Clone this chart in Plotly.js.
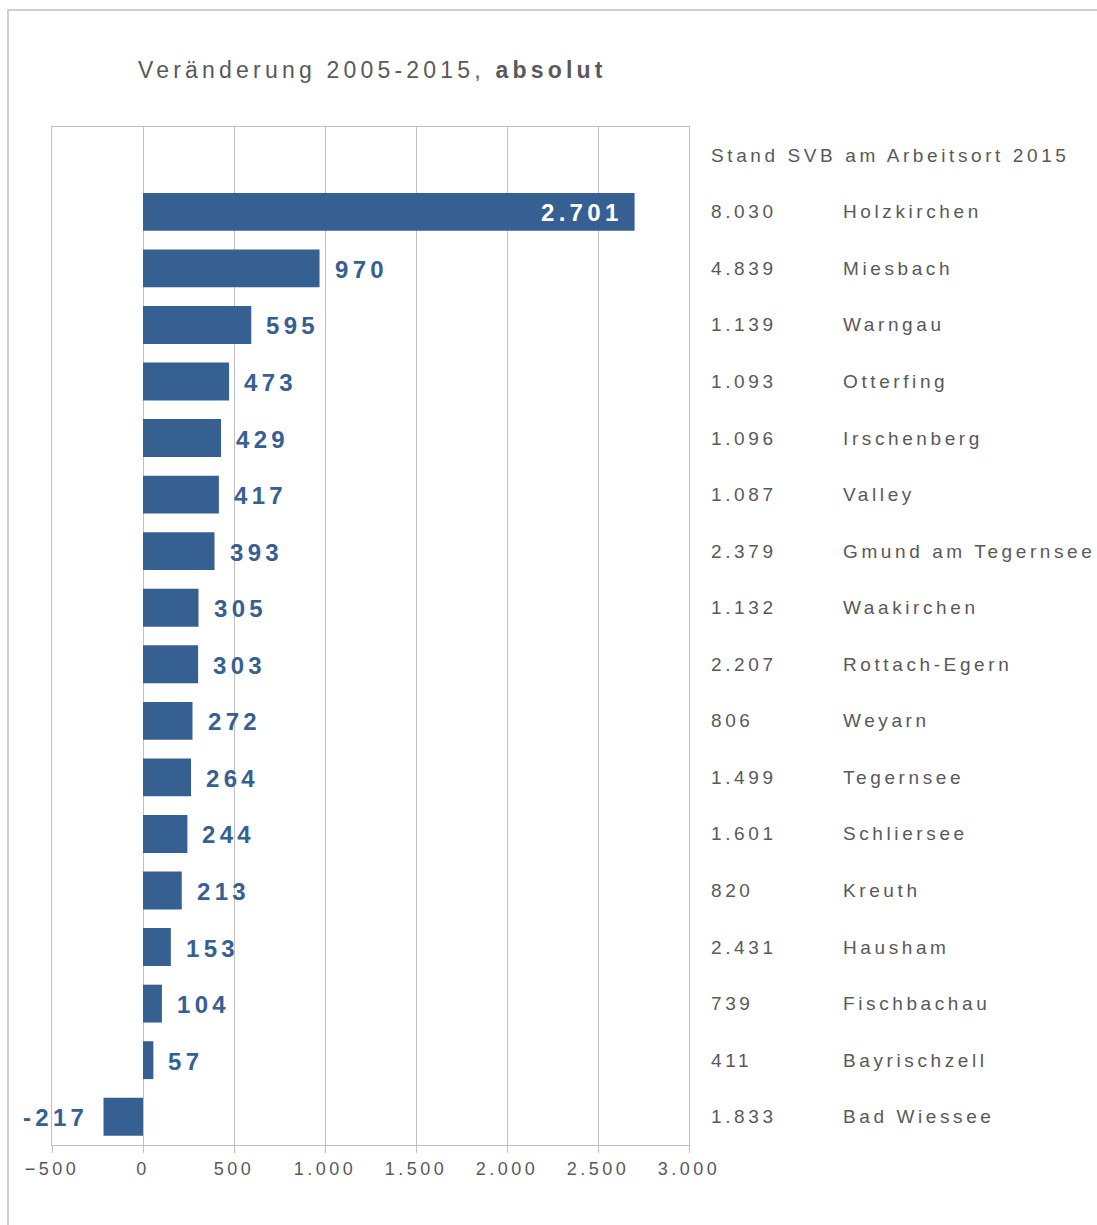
<!DOCTYPE html>
<html>
<head>
<meta charset="utf-8">
<script src="https://cdn.plot.ly/plotly-3.0.1.min.js"></script>
<style>
  html, body { margin: 0; padding: 0; background: #ffffff; }
  #chart { width: 1097px; height: 1225px; }
  .gtitle { letter-spacing: 4.2px; }
  .xtick text { letter-spacing: 3.5px; }
  .annotation-text { letter-spacing: 3.6px; }
</style>
</head>
<body>
<div id="chart"></div>
<script>
const gemeinden = ["Holzkirchen", "Miesbach", "Warngau", "Otterfing", "Irschenberg", "Valley",
  "Gmund am Tegernsee", "Waakirchen", "Rottach-Egern", "Weyarn", "Tegernsee", "Schliersee",
  "Kreuth", "Hausham", "Fischbachau", "Bayrischzell", "Bad Wiessee"];
const veraenderung = [2701, 970, 595, 473, 429, 417, 393, 305, 303, 272, 264, 244, 213, 153, 104, 57, -217];
const stand2015 = [8030, 4839, 1139, 1093, 1096, 1087, 2379, 1132, 2207, 806, 1499, 1601, 820, 2431, 739, 411, 1833];
const tickValues = [-500, 0, 500, 1000, 1500, 2000, 2500, 3000];
const titleText = "Veränderung 2005-2015, <b>absolut</b>";
const headerText = "Stand SVB am Arbeitsort 2015";

const fmt = v => String(v).replace(/\B(?=(\d{3})+(?!\d))/g, ".");
const pos = gemeinden.map((_, i) => i);

const barColor = "#376092";
const grey = "#595959";
const lineGrey = "#c0c0c0";
const FONT = "Liberation Sans, Arial, sans-serif";

const trace = {
  type: "bar",
  orientation: "h",
  x: veraenderung,
  y: pos,
  width: 0.67,
  marker: { color: barColor, line: { width: 0 } },
  hoverinfo: "skip"
};

const annotations = [];
// data labels
veraenderung.forEach((v, i) => {
  let a = {
    xref: "x", yref: "y", x: v, y: i, showarrow: false,
    text: "<b><span style=\"letter-spacing:4.3px\">" + fmt(v) + "</span></b>",
    font: { family: FONT, size: 24, color: barColor },
    yanchor: "middle", yshift: -1
  };
  if (i === 0) {
    a.xanchor = "right"; a.xshift = -10; a.font = { family: FONT, size: 24, color: "#ffffff" };
  } else if (v < 0) {
    a.xanchor = "right"; a.xshift = -14;
  } else {
    a.xanchor = "left"; a.xshift = 13;
  }
  annotations.push(a);
});
// right-hand table
annotations.push({
  xref: "paper", yref: "y", x: (709 - 52) / 637, y: -1, xanchor: "left", yanchor: "middle",
  showarrow: false, text: headerText, font: { family: FONT, size: 19, color: grey }
});
stand2015.forEach((s, i) => {
  annotations.push({
    xref: "paper", yref: "y", x: (709 - 52) / 637, y: i, xanchor: "left", yanchor: "middle",
    showarrow: false, text: fmt(s), font: { family: FONT, size: 19, color: grey }
  });
  annotations.push({
    xref: "paper", yref: "y", x: (841 - 52) / 637, y: i, xanchor: "left", yanchor: "middle",
    showarrow: false, text: gemeinden[i], font: { family: FONT, size: 19, color: grey }
  });
});

const layout = {
  width: 1097,
  height: 1225,
  margin: { l: 52, r: 408, t: 127, b: 80, pad: 0 },
  paper_bgcolor: "#ffffff",
  plot_bgcolor: "#ffffff",
  separators: ",.",
  showlegend: false,
  font: { family: FONT, color: grey },
  title: {
    text: titleText,
    xref: "container", yref: "container",
    x: 138 / 1097, xanchor: "left",
    y: 1 - 70 / 1225, yanchor: "middle",
    font: { family: FONT, size: 23, color: grey }
  },
  xaxis: {
    range: [-500, 3000],
    tickvals: tickValues,
    tickformat: ",d",
    showgrid: true, gridcolor: lineGrey, gridwidth: 1,
    zeroline: false,
    showline: true, linecolor: lineGrey, linewidth: 1, mirror: true,
    ticks: "outside", ticklen: 7, tickcolor: lineGrey, tickwidth: 1,
    ticklabelstandoff: 0,
    tickfont: { family: FONT, size: 18, color: grey },
    fixedrange: true
  },
  yaxis: {
    range: [16.5, -1.5],
    showgrid: false, zeroline: false,
    showticklabels: false, ticks: "",
    showline: true, linecolor: lineGrey, linewidth: 1, mirror: true,
    fixedrange: true
  },
  shapes: [{
    type: "rect", xref: "paper", yref: "paper", layer: "below",
    x0: (8 - 52) / 637, x1: (1110 - 52) / 637,
    y0: (1145 - 1240) / 1018, y1: (1145 - 10) / 1018,
    line: { color: "#d0d0d0", width: 2 }, fillcolor: "rgba(0,0,0,0)"
  }],
  annotations: annotations
};

Plotly.newPlot("chart", [trace], layout, { displayModeBar: false, staticPlot: true });
</script>
</body>
</html>
